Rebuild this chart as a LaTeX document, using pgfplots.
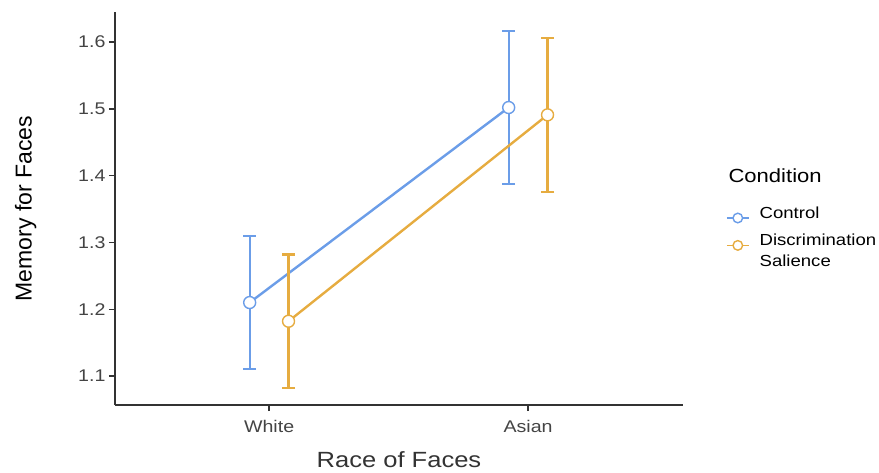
\documentclass[border=0pt]{standalone}
\usepackage{pgfplots}
\pgfplotsset{compat=1.18}
\usepackage{pgfplotstable}
\usepackage{fontspec}
\setmainfont{Liberation Sans}[FakeStretch=1.16]
\newfontfamily\plainfont{Liberation Sans}
\definecolor{cblue}{HTML}{6B9DE8}
\definecolor{corange}{HTML}{E6AC40}
\definecolor{axgray}{HTML}{333333}
\definecolor{tickgray}{HTML}{444444}

\pgfplotstableread{
x y e
-0.075 1.210 0.100
0.925 1.502 0.115
}\controltab
\pgfplotstableread{
x y e
0.075 1.182 0.100
1.075 1.491 0.115
}\discrtab

\pgfplotsset{
  condplot/.style={#1, line width=2.4pt, mark=*, mark size=6pt,
    mark options={fill=white, draw=#1, line width=1.4pt},
    error bars/.cd, y dir=both, y explicit,
    error bar style={#1, line width=2.2pt},
    error mark options={#1, rotate=90, mark size=6.5pt, line width=2.2pt}},
}

\begin{document}
\begin{tikzpicture}
\begin{axis}[
  at={(0pt,0pt)}, anchor=south west,
  scale only axis, width=568pt, height=393pt,
  xmin=-0.595, xmax=1.598, ymin=1.0566, ymax=1.645,
  axis x line*=bottom, axis y line*=left,
  axis line style={axgray, line width=1.4pt},
  xtick={0,1}, xticklabels={White,Asian},
  ytick={1.1,1.2,1.3,1.4,1.5,1.6},
  yticklabel style={/pgf/number format/fixed, /pgf/number format/precision=1, /pgf/number format/fixed zerofill},
  /pgf/number format/assume math mode=true,
  tick align=outside, major tick length=6pt,
  tick style={axgray, line width=1.4pt},
  ticklabel style={font=\fontsize{16.9}{20}\selectfont, text=tickgray},
  xticklabel style={yshift=-6pt},
  xlabel={Race of Faces}, ylabel={Memory for Faces},
  xlabel style={font=\fontsize{22}{26}\selectfont, text=axgray, yshift=-12pt},
  ylabel style={font=\plainfont\fontsize{23}{27}\selectfont, text=black, yshift=35pt},
  clip=false,
  legend style={at={(axis description cs:1.07,0.516)}, anchor=north west, draw=none, fill=none,
    font=\fontsize{16}{21}\selectfont, row sep=9pt, cells={anchor=base west}},
  legend image code/.code={\draw[mark repeat=2,mark phase=2,#1, mark size=4.8pt, line width=1.7pt] plot coordinates {(0pt,0pt)(11pt,0pt)(22pt,0pt)};},
]
\addplot[condplot=cblue] table[x=x, y=y, y error=e] {\controltab};
\addlegendentry{\hspace*{8pt}Control}
\addplot[condplot=corange] table[x=x, y=y, y error=e] {\discrtab};
\addlegendentry{\hspace*{8pt}\vtop{\baselineskip=21pt\hbox{Discrimination}\hbox{Salience}}}
\node[anchor=base west, font=\fontsize{19}{23}\selectfont, text=black] at (axis description cs:1.074,0.566) {Condition};
\end{axis}
\pgfresetboundingbox
\path (-115pt,-67pt) rectangle (764pt,405pt);
\end{tikzpicture}
\end{document}
